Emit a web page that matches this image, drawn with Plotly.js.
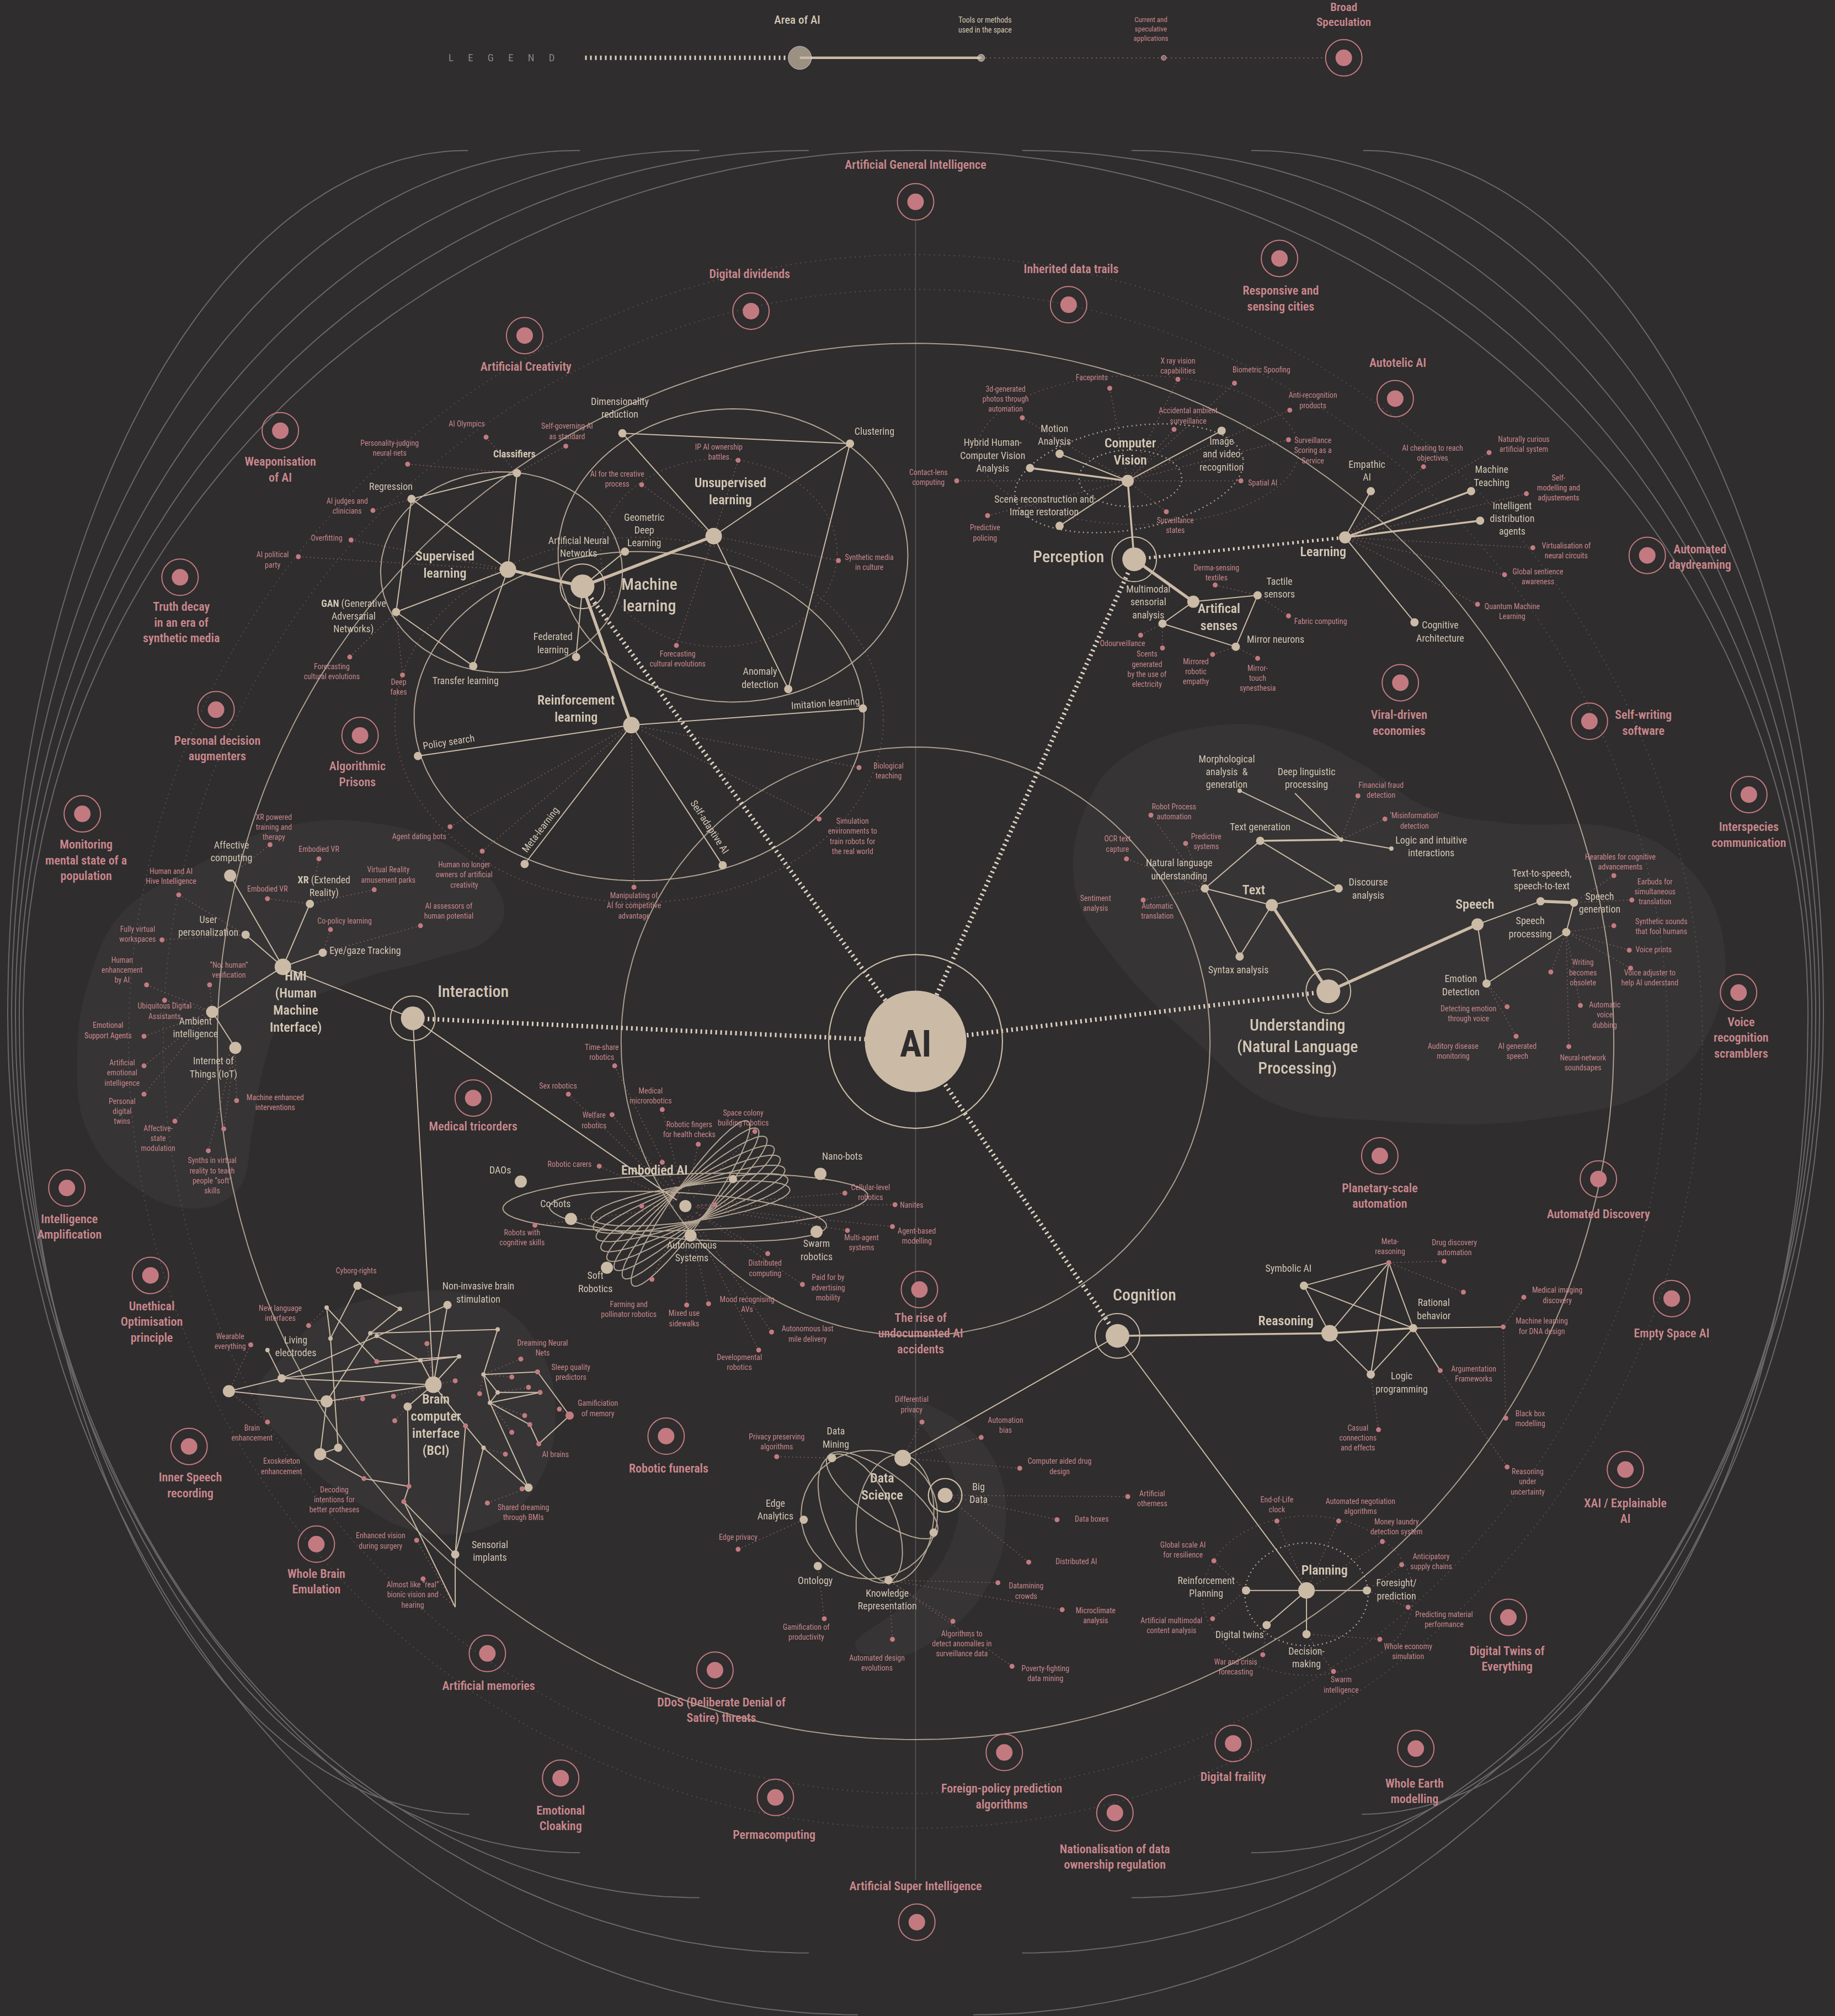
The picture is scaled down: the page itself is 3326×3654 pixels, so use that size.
<!DOCTYPE html>
<html>
<head>
<meta charset="utf-8">
<script src="https://cdn.plot.ly/plotly-3.0.1.min.js"></script>
<style>
html,body{margin:0;padding:0;background:#2f2d2e;overflow:hidden;}
#chart{width:3326px;height:3654px;}
</style>
</head>
<body>
<div id="chart"></div>
<script>
/* ================= DATA ================= */
// network nodes (diagram coordinates)
const nodeId = [
"AI","ML","PER","UND","INT","COG","EMB","DS","BD",
"SUP","UNS","REI","CLS","REG","GAN","TRL","DIM","CLU","GEO","FED","ANO","IMI","POL","MET","SAD",
"CV","AS","LRN","MOT","HYB","IMG","SCN","EMP","MTE","IDA","CGA","TAC","MUL","MIR",
"TXT","SPE","TGN","NLU","DIS","SYN","JUN","MOR","DLP","LOG","TTS","SGN","SPR","EMO",
"HMI","AFF","XR","EYE","USR","AMB","IOT",
"DAO","COB","SOF","AUT","SWA","NAN","EM1",
"BCI","B1","B2","B3","B4","B5","B6","B7","B8","B9","B10","B11","B13","B14","B15","B16","B17","B18","B19","B20","B21","B22","B23","B24","B25",
"P1","P2","P3","P4","P5","P6","P7","P8","P9","P10",
"DMI","EDG","ONT","KNR","DS2",
"REA","PLA","SYM","MTR","RAT","LGP","DNA","ARG","RPL","FOR","DTW","DEC"];
const nodeX = [
712,453,882,1033,321,869,533,702,735,
395,555,491,402,320,308,368,484,661,486,448,613,671,325,408,562,
877,928,1046,824,801,950,824,1066,1144,1151,1100,978,904,961,
989,1149,980,937,1041,964,1043,964,1007,1082,1198,1224,1218,1156,
220,179,241,251,191,165,183,
405,444,472,537,635,638,570,
337,278,348,311,254,257,288,293,208,219,178,254,327,357,317,249,263,387,376,387,381,376,411,354,354,
418,420,443,412,419,362,318,314,283,293,
647,625,636,691,726,
1034,1016,1014,1080,1099,1066,1169,1120,969,1063,985,1016];
const nodeY = [
810,456,435,771,792,1039,938,1134,1163,
443,417,564,368,388,476,518,337,345,429,511,536,551,588,672,673,
374,468,418,353,364,335,409,382,382,405,484,463,485,503,
704,719,654,691,691,744,653,615,617,660,701,702,725,765,
752,681,703,741,727,787,815,
919,948,986,961,958,913,917,
1077,1000,1015,1018,1017,1041,1037,1039,1050,1072,1082,1090,1058,1055,1094,1131,1126,1034,1069,1083,1091,1126,1157,1209,1250,
1067,1083,1101,1108,1123,1109,1156,1168,1150,1059,
1134,1182,1218,1229,1192,
1037,1237,1000,982,1033,1069,1032,1066,1237,1237,1264,1271];
const nodeKind = [
"ai","hub","hub","hub","hub","hub","emb","sub","bd",
"sub","sub","sub","tool","tool","tool","tool","tool","tool","tool","tool","tool","tool","tool","tool","tool",
"mid","mid","mid","tool","tool","tool","tool","tool","tool","tool","tool","tool","tool","tool",
"mid","mid","tool","tool","tool","tool","small","small","end","small","tool","tool","tool","tool",
"sub","mid","tool","tool","tool","mid","mid",
"mid","mid","mid","mid","mid","mid","tool",
"sub","tool","tool","small","small","small","small","small","small","tool","mid","mid","small","small","tool","mid","tool","small","small","small","small","small","tool","tool","end",
"pink","pink","pinkBig","pink","pink","pink","pink","pink","pink","pink",
"tool","tool","tool","tool","tool",
"sub","sub","tool","pink","tool","tool","pink","pink","tool","tool","tool","tool"];

// connections
const aiLinks = ["ML","PER","UND","INT","COG"];
const thickEdges = [["ML","SUP"],["ML","UNS"],["ML","REI"],["PER","AS"],["UND","TXT"],["UND","SPE"],["TTS","SGN"]];
const midEdges = [["LRN","MTE"],["LRN","IDA"],["CV","HYB"],["COG","REA"],["TGN","JUN"],["REA","RAT"],["PER","CV"]];
const thinEdges = [
["SUP","CLS"],["SUP","REG"],["SUP","GAN"],["SUP","TRL"],["REG","CLS"],["REG","GAN"],["GAN","TRL"],["ML","GEO"],["ML","FED"],
["UNS","DIM"],["UNS","CLU"],["UNS","ANO"],["DIM","CLU"],["CLU","ANO"],["REI","POL"],["REI","IMI"],["REI","MET"],["REI","SAD"],
["CV","MOT"],["CV","IMG"],["CV","SCN"],["AS","TAC"],["AS","MUL"],["MUL","MIR"],["TAC","MIR"],["LRN","EMP"],["LRN","CGA"],
["TXT","NLU"],["NLU","TGN"],["TGN","DIS"],["TXT","DIS"],["NLU","SYN"],["SYN","TXT"],["JUN","MOR"],["JUN","DLP"],["JUN","LOG"],
["SPE","TTS"],["SGN","SPR"],["SPR","EMO"],["EMO","SPE"],
["INT","HMI"],["HMI","AFF"],["HMI","XR"],["HMI","EYE"],["HMI","USR"],["HMI","AMB"],["AMB","IOT"],["INT","BCI"],["INT","EMB"],
["COG","PLA"],["COG","DS"],
["REA","SYM"],["REA","MTR"],["REA","LGP"],["SYM","MTR"],["SYM","RAT"],["MTR","RAT"],["MTR","LGP"],["RAT","LGP"],["RAT","DNA"],["RAT","ARG"],
["PLA","RPL"],["PLA","FOR"],["PLA","DTW"],["PLA","DEC"],
["B10","B9"],["B10","B11"],["B9","B8"],["B9","BCI"],["B9","B2"],["B9","B14"],["B11","BCI"],["B11","B6"],["B4","B5"],["B5","B17"],
["B4","P10"],["B5","B1"],["B1","B3"],["B3","B6"],["B7","B13"],["B13","BCI"],["P10","B14"],["B14","BCI"],["BCI","B2"],["BCI","B15"],
["B15","P7"],["P7","P8"],["B16","B17"],["B16","B11"],["B16","P9"],["P9","P7"],["BCI","P6"],["P6","B22"],["P6","B24"],["B24","B25"],
["P8","B24"],["P8","B25"],["B24","B22"],["B22","B23"],["B18","B19"],["B18","B6"],["B19","P1"],["B19","B20"],["B20","P2"],["B21","P2"],
["B21","P4"],["P4","P5"],["P1","P3"],["P5","P3"],["B21","B20"],["B19","B21"],["B21","B23"]];

// rings / orbits drawn around clusters: centre x, centre y, half-width, half-height, tilt, style
const ringCX = [390,570,497,676,686,696,669,735,533,535,537,537,537,537,537,537,537,537,879,878,1016,885,559,497,1017];
const ringCY = [445,432,557,1178,1163,1181,1181,1163,935,946,936,936,936,936,936,936,936,936,372,372,1240,350,430,560,1241];
const ringA  = [94,136,175,53,52,50,54,13,142,108,78,78,78,78,78,78,78,78,40,90,48,125,92,190,82];
const ringB  = [78,114,128,50,18,30,26,13,22,18,14,14,14,14,14,14,14,14,22,40,40,58,73,142,62];
const ringTilt=[0,0,0,0,-36,-96,-65,0,2,-4,8,14,20,27,34,41,48,55,0,10,0,0,0,0,0];
const ringStyle=["s","s","s","s","s","s","s","s","s","s","s","s","s","s","s","s","s","s","dw","dw","dw","dp","dp","dp","dp"];

// current & speculative applications (pink dots)
const appText = [
"AI Olympics","Personality-judging<br>neural nets","Self-governing AI<br>as standard","AI judges and<br>clinicians","Overfitting","AI political<br>party","Forecasting<br>cultural evolutions","Deep<br>fakes","IP AI ownership<br>battles","AI for the creative<br>process","Synthetic media<br>in culture","Forecasting<br>cultural evolutions","Biological<br>teaching","Simulation<br>environments to<br>train robots for<br>the real world","Agent dating bots","Human no longer<br>owners of artificial<br>creativity","Manipulating of<br>AI for competitive<br>advantage",
"Faceprints","X ray vision<br>capabilities","Biometric Spoofing","3d-generated<br>photos through<br>automation","Anti-recognition<br>products","Accidental ambient<br>surveillance","Surveillance<br>Scoring as a<br>Service","Contact-lens<br>computing","Spatial AI","Predictive<br>policing","Surveillance<br>states","AI cheating to reach<br>objectives","Naturally curious<br>artificial system","Self-<br>modelling and<br>adjustements","Virtualisation of<br>neural circuits","Global sentience<br>awareness","Quantum Machine<br>Learning","Derma-sensing<br>textiles","Fabric computing","Odourveillance","Scents<br>generated<br>by the use of<br>electricity","Mirrored<br>robotic<br>empathy","Mirror-<br>touch<br>synesthesia",
"Robot Process<br>automation","OCR text<br>capture","Predictive<br>systems","Automatic<br>translation","Financial fraud<br>detection","‘Misinformation’<br>detection","Hearables for cognitive<br>advancements","Earbuds for<br>simultaneous<br>translation","Synthetic sounds<br>that fool humans","Voice prints","Voice adjuster to<br>help AI understand","Writing<br>becomes<br>obsolete","Detecting emotion<br>through voice","Automatic<br>voice<br>dubbing","AI generated<br>speech","Neural-network<br>soundsapes",
"XR powered<br>training and<br>therapy","Embodied VR","Human and AI<br>Hive Intelligence","Embodied VR","Virtual Reality<br>amusement parks","Co-policy learning","AI assessors of<br>human potential","Fully virtual<br>workspaces","Human<br>enhancement<br>by AI","“Not human”<br>verification","Ubiquitous Digital<br>Assistants","Emotional<br>Support Agents","Artificial<br>emotional<br>intelligence","Personal<br>digital<br>twins","Affective-<br>state<br>modulation","Machine enhanced<br>interventions","Synths in virtual<br>reality to teach<br>people “soft”<br>skills","",
"Time-share<br>robotics","Sex robotics","Medical<br>microrobotics","Welfare<br>robotics","Space colony<br>building robotics","Robotic fingers<br>for health checks","Robotic carers","","","","Cellular-level<br>robotics","Nanites","Robots with<br>cognitive skills","Agent-based<br>modelling","Multi-agent<br>systems","Distributed<br>computing","Paid for by<br>advertising<br>mobility","Farming and<br>pollinator robotics","Mixed use<br>sidewalks","Mood recognising<br>AVs","Autonomous last<br>mile delivery","Developmental<br>robotics",
"New language<br>interfaces","Wearable<br>everything","Brain<br>enhancement","Enhanced vision<br>during surgery","Almost like “real”<br>bionic vision and<br>hearing","Dreaming Neural<br>Nets","Shared dreaming<br>through BMIs","","","","","","","","","","","","","",
"Differential<br>privacy","Automation<br>bias","Privacy preserving<br>algorithms","Computer aided drug<br>design","Artificial<br>otherness","Data boxes","Edge privacy","Distributed AI","Datamining<br>crowds","Microclimate<br>analysis","Gamification of<br>productivity","","Algorithms to<br>detect anomalies in<br>surveillance data","Poverty-fighting<br>data mining","Global scale AI<br>for resilience","Artificial multimodal<br>content analysis",
"Drug discovery<br>automation","","Medical imaging<br>discovery","Black box<br>modelling","Casual<br>connections<br>and effects","Reasoning<br>under<br>uncertainty","End-of-Life<br>clock","Automated negotiation<br>algorithms","Money laundry<br>detection system","Anticipatory<br>supply chains","Predicting material<br>performance","Whole economy<br>simulation","Swarm<br>intelligence","War and crisis<br>forecasting"];
const appX = [
378,317,440,290,273,232,272,313,574,499,652,526,668,637,350,375,493,
863,916,960,795,1003,913,1002,744,965,768,907,1107,1158,1187,1192,1170,1149,945,1002,887,904,943,978,
895,876,922,889,1056,1077,1255,1269,1255,1267,1268,1206,1172,1229,1179,1220,
210,248,139,208,291,257,327,126,114,163,128,112,112,112,136,184,162,174,
478,442,515,476,587,543,466,515,499,556,657,696,416,694,659,597,624,507,534,551,600,590,
240,195,208,324,329,405,379,332,354,373,398,411,408,398,393,406,435,282,306,307,
717,763,604,793,877,822,574,800,776,826,641,694,741,787,944,943,
1123,1138,1185,1171,1072,1172,993,1041,1075,1090,1095,1073,1037,982];
const appY = [
340,361,347,397,420,433,511,525,358,377,436,502,597,637,643,662,690,
302,295,298,325,319,334,342,374,374,401,398,363,352,384,426,447,470,455,479,494,504,509,512,
634,668,656,700,619,637,681,700,720,739,753,756,783,782,806,814,
657,668,696,699,692,723,720,731,766,766,778,806,829,851,872,856,895,878,
829,851,863,867,880,890,907,904,938,937,928,937,953,954,957,975,999,995,1015,1014,1036,1050,
1031,1046,1106,1198,1228,1057,1169,1045,1074,1084,1071,1079,1101,1114,1131,1158,1096,1088,1086,1105,
1106,1118,1133,1142,1164,1182,1205,1215,1231,1252,1259,1275,1261,1296,1214,1259,
981,1005,1009,1103,1112,1141,1183,1183,1199,1217,1250,1275,1300,1287];
const appLX = [
363,303,441,270,254,212,258,310,559,480,676,527,691,663,326,361,493,
849,916,981,782,1021,924,1021,722,982,766,914,1114,1185,1212,1218,1196,1176,946,1027,873,892,930,978,
913,869,938,900,1074,1100,1260,1287,1292,1286,1283,1231,1142,1248,1180,1231,
213,248,133,208,302,268,349,107,95,178,128,84,95,95,123,214,165,0,
468,434,506,462,578,536,443,0,0,0,677,709,406,713,670,595,644,489,532,581,628,575,
218,179,196,296,321,422,407,0,0,0,0,0,0,0,0,0,0,0,0,0,
709,782,604,824,896,849,574,837,798,852,627,0,748,813,920,911,
1131,0,1211,1190,1056,1188,993,1058,1086,1113,1123,1095,1043,961];
const appLY = [
330,349,336,394,419,436,523,535,352,373,438,513,600,651,651,681,705,
294,285,288,311,312,324,351,372,376,415,409,353,346,380,429,449,476,446,484,501,521,523,528,
632,657,655,709,615,639,671,694,721,739,761,757,789,790,818,827,
644,661,682,692,681,717,709,727,755,755,787,802,835,865,886,858,915,0,
819,845,853,872,870,879,906,0,0,0,928,938,963,962,967,987,1002,1019,1026,1015,1038,1060,
1022,1044,1115,1199,1241,1049,1177,0,0,0,0,0,0,0,0,0,0,0,0,0,
1093,1109,1122,1141,1166,1182,1196,1215,1238,1257,1270,0,1279,1302,1206,1265,
971,0,1008,1104,1119,1153,1171,1172,1188,1215,1260,1285,1311,1297];
const appTo = [
"CLS","CLS","CLS","REG","SUP","SUP","GAN","GAN","UNS","UNS","UNS","UNS","REI","REI","REI","REI","REI",
"CV","CV","CV","CV","CV","CV","CV","CV","CV","CV","CV","LRN","LRN","LRN","LRN","LRN","LRN","TAC","TAC","MUL","MUL","MIR","MIR",
"NLU","NLU","NLU","NLU","JUN","JUN","SGN","SGN","SPR","SPR","SPR","SPR","EMO","SPR","EMO","SPR",
"AFF","XR","USR","XR","XR","EYE","EYE","USR","AMB","AMB","AMB","AMB","AMB","AMB","IOT","IOT","IOT","IOT",
"EMB","EMB","EMB","EMB","EMB","EMB","EMB","EMB","EMB","EMB","EMB","EMB","EMB","EMB","EMB","EMB","EMB","EMB","EMB","EMB","EMB","EMB",
"B4","B10","B10","B25","B25","B19","B23","BCI","BCI","B19","B19","B20","B21","B21","B22","B23","P3","B11","BCI","B15",
"DS","DS","DMI","DS","BD","BD","EDG","BD","KNR","KNR","ONT","KNR","KNR","KNR","RPL","RPL",
"MTR","MTR","DNA","DNA","LGP","ARG","PLA","PLA","PLA","FOR","FOR","DEC","DEC","DTW"];

// pink labels that sit on network nodes (no separate dot)
const pinkLabelText = ["Sentiment<br>analysis","Auditory disease<br>monitoring","Exoskeleton<br>enhancement","Decoding<br>intentions for<br>better protheses","Sleep quality<br>predictors","Gamificiation<br>of memory","AI brains","Automated design<br>evolutions","Cyborg-rights","Meta-<br>reasoning","Machine learning<br>for DNA design","Argumentation<br>Frameworks"];
const pinkLabelX = [852,1130,219,260,444,465,432,682,277,1081,1199,1146];
const pinkLabelY = [703,818,1141,1167,1068,1096,1132,1294,989,970,1032,1069];

// broad speculation
const specText = ["Artificial General Intelligence","Digital dividends","Inherited data trails","Responsive and<br>sensing cities","Artificial Creativity","Autotelic AI","Weaponisation<br>of AI","Automated<br>daydreaming","Truth decay<br>in an era of<br>synthetic media","Viral-driven<br>economies","Personal decision<br>augmenters","Algorithmic<br>Prisons","Self-writing<br>software","Interspecies<br>communication","Monitoring<br>mental state of a<br>population","Voice<br>recognition<br>scramblers","Medical tricorders","Planetary-scale<br>automation","Automated Discovery","Intelligence<br>Amplification","The rise of<br>undocumented AI<br>accidents","Unethical<br>Optimisation<br>principle","Empty Space AI","Inner Speech<br>recording","Robotic funerals","XAI / Explainable<br>AI","Whole Brain<br>Emulation","Digital Twins of<br>Everything","Artificial memories","DDoS (Deliberate Denial of<br>Satire) threats","Digital fraility","Whole Earth<br>modelling","Foreign-policy prediction<br>algorithms","Emotional<br>Cloaking","Permacomputing","Nationalisation of data<br>ownership regulation","Artificial Super Intelligence"];
const specX = [712,584,831,995,408,1085,218,1281,140,1089,168,280,1236,1360,64,1352,368,1073,1243,52,715,117,1300,147,518,1264,246,1173,379,556,959,1101,781,436,603,867,713];
const specY = [157,242,237,201,261,310,335,432,449,531,552,572,561,618,633,772,854,899,917,924,1003,992,1010,1125,1117,1143,1201,1258,1286,1299,1356,1360,1363,1383,1398,1410,1495];
const specLX = [712,583,833,996,409,1087,218,1322,141,1088,169,278,1278,1360,67,1354,368,1073,1243,54,716,118,1300,148,520,1264,246,1172,380,561,959,1100,779,436,602,867,712];
const specLY = [129,214,210,233,286,283,366,434,485,563,583,603,563,650,670,808,877,931,945,955,1038,1029,1038,1156,1143,1176,1231,1291,1312,1331,1383,1394,1398,1415,1428,1445,1468];

// labels of areas and tools
const hubLabelText = ["Machine<br>learning","Perception","Understanding<br>(Natural Language<br>Processing)","Interaction","Cognition"];
const hubLabelX = [505,831,1009,368,890];
const hubLabelY = [464,434,815,772,1008];
const subLabelText = ["Learning","Embodied AI","Data<br>Science","Supervised<br>learning","Unsupervised<br>learning","Reinforcement<br>learning","Computer<br>Vision","Artifical<br>senses","Text","Speech","<b>HMI</b><br>(Human<br>Machine<br>Interface)","Brain<br>computer<br>interface<br>(BCI)","Reasoning","Planning"];
const subLabelX = [1029,509,686,346,568,448,879,948,975,1147,230,339,1000,1030];
const subLabelY = [430,911,1157,440,383,552,352,481,693,704,780,1109,1028,1222];
const toolLabelText = [
"<b>Classifiers</b>","Regression","<b>GAN</b> (Generative<br>Adversarial<br>Networks)","Transfer learning","Dimensionality<br>reduction","Clustering","Geometric<br>Deep<br>Learning","Artificial Neural<br>Networks","Federated<br>learning","Anomaly<br>detection",
"Motion<br>Analysis","Hybrid Human-<br>Computer Vision<br>Analysis","Image<br>and video<br>recognition","Scene reconstruction and<br>Image restoration","Empathic<br>AI","Machine<br>Teaching","Intelligent<br>distribution<br>agents","Cognitive<br>Architecture","Tactile<br>sensors","Multimodal<br>sensorial<br>analysis","Mirror neurons",
"Text generation","Natural language<br>understanding","Discourse<br>analysis","Syntax analysis","Morphological<br>analysis  &<br>generation","Deep linguistic<br>processing","Logic and intuitive<br>interactions","Text-to-speech,<br>speech-to-text","Speech<br>generation","Speech<br>processing","Emotion<br>Detection",
"Affective<br>computing","<b>XR</b> (Extended<br>Reality)","Eye/gaze Tracking","User<br>personalization","Ambient<br>intelligence","Internet of<br>Things (IoT)",
"DAOs","Co-bots","Soft<br>Robotics","Autonomous<br>Systems","Swarm<br>robotics","Nano-bots",
"Living<br>electrodes","Non-invasive brain<br>stimulation","Sensorial<br>implants",
"Data<br>Mining","Edge<br>Analytics","Ontology","Knowledge<br>Representation","Big<br>Data",
"Symbolic AI","Rational<br>behavior","Logic<br>programming","Reinforcement<br>Planning","Foresight/<br>prediction","Digital twins","Decision-<br>making"];
const toolLabelX = [400,304,275,362,482,680,501,450,430,591,
820,772,950,812,1063,1160,1176,1120,995,893,992,
980,917,1064,963,954,1016,1113,1199,1244,1190,1136,
180,252,284,162,152,166,
389,432,463,538,635,655,
230,372,381,
650,603,634,690,761,
1002,1115,1090,938,1086,964,1016];
const toolLabelY = [354,379,480,530,318,336,413,426,501,528,
339,355,354,394,367,371,404,492,458,469,498,
644,677,692,755,601,606,659,685,703,722,767,
663,690,740,721,800,831,
911,937,998,974,973,900,
1048,1006,1207,
1119,1175,1230,1245,1162,
987,1019,1076,1235,1237,1272,1290];
const rotText = ["Policy search","Imitation learning","Meta-learning","Self-adaptive AI"];
const rotX = [349,642,420,552];
const rotY = [577,547,645,643];
const rotAngle = [-9,-4,-53,57];

// outer horizon curves
const outerTopX = [712,629,544,451,364];
const outerSideX = [18,15,12,9,6];
const outerBotX = [365,451,544,629,667];
const outerBotY = [1411,1441,1476,1519,1567];
// circles around the AI core
const coreCircleR = [543,229];
const faintCircleR = [585,612];

// lighter background regions
const blobNLPx = [848,880,940,1000,1060,1110,1170,1260,1310,1340,1330,1290,1200,1080,990,930,870,836];
const blobNLPy = [620,585,565,568,595,628,640,645,672,730,800,845,870,872,858,810,750,690];
const blobHMIx = [70,95,150,213,290,360,392,380,340,270,222,205,196,185,150,100,68,60];
const blobHMIy = [760,710,675,645,640,665,705,730,745,765,790,830,880,925,940,920,880,820];
const blobBCIx = [200,225,250,300,356,395,420,432,420,385,330,280,230];
const blobBCIy = [1085,1050,1025,1008,1005,1020,1050,1096,1150,1185,1192,1170,1130];
const blobDSx = [700,745,775,782,770,735,690,665,700,735,745,725];
const blobDSy = [1088,1105,1140,1185,1230,1270,1290,1280,1250,1210,1160,1120];

/* ================= STYLE ================= */
const FONT = "'Liberation Sans Narrow','Roboto Condensed','Arial Narrow',Roboto,sans-serif";
const BG = '#2f2d2e', BEIGE = '#cbbba6', BEIGE_T = '#d3c6b4', PINK = '#c27a80', PINK_T = '#c9878c', GRAY = '#6b6869';
const KIND_SIZE = {ai:184, hub:43, sub:30, emb:30, bd:27, mid:22, tool:15, small:8, pink:9, pinkBig:15, end:0};
const AI_DOT = '3px,6px';

/* ================= DRAWING ================= */
const idx = {}; nodeId.forEach((id,i)=>{idx[id]=i;});
const P = id => [nodeX[idx[id]], nodeY[idx[id]]];
const traces = [];
const add = t => { t.hoverinfo='skip'; t.showlegend=false; traces.push(t); };

function segs(pairs){
  const x=[],y=[];
  pairs.forEach(([a,b])=>{const p=Array.isArray(a)?a:P(a), q=Array.isArray(b)?b:P(b); x.push(p[0],q[0],null); y.push(p[1],q[1],null);});
  return {x,y};
}
function ell(cx,cy,a,b,tilt,n){
  n=n||180; const x=[],y=[]; const t=tilt*Math.PI/180;
  for(let i=0;i<=n;i++){const u=2*Math.PI*i/n; const ex=a*Math.cos(u), ey=b*Math.sin(u);
    x.push(cx+ex*Math.cos(t)-ey*Math.sin(t)); y.push(cy-(ex*Math.sin(t)+ey*Math.cos(t)));}
  return {x,y};
}
function joinShapes(list){const x=[],y=[];list.forEach(s=>{x.push(...s.x,null);y.push(...s.y,null);});return {x,y};}

// blobs
[[blobNLPx,blobNLPy],[blobHMIx,blobHMIy],[blobBCIx,blobBCIy],[blobDSx,blobDSy]].forEach(([bx,by])=>{
  add({type:'scatter',mode:'lines',x:bx.concat([bx[0]]),y:by.concat([by[0]]),fill:'toself',fillcolor:'rgba(255,255,255,0.035)',line:{width:0,color:'rgba(0,0,0,0)',shape:'spline',smoothing:1.2}});
});

// outer horizon curves
(function(){
  const shapes=[];
  const cx=712, yt=117, yc=790;
  for(let k=0;k<outerTopX.length;k++){
    const xt=outerTopX[k], xs=outerSideX[k], xb=outerBotX[k], yb=outerBotY[k];
    const lx=[],ly=[];
    for(let i=0;i<=90;i++){const t=Math.PI/2*i/90; lx.push(xt-(xt-xs)*Math.sin(t)); ly.push(yc-(yc-yt)*Math.cos(t));}
    for(let i=89;i>=0;i--){const t=Math.PI/2*i/90; lx.push(xb-(xb-xs)*Math.sin(t)); ly.push(yc+(yb-yc)*Math.cos(t));}
    shapes.push({x:lx,y:ly});
    shapes.push({x:lx.map(v=>2*cx-v),y:ly.slice()});
  }
  const j=joinShapes(shapes);
  add({type:'scatter',mode:'lines',x:j.x,y:j.y,line:{width:2,color:GRAY}});
})();

// faint dotted circles
const AIx=P("AI")[0], AIy=P("AI")[1];
add(Object.assign({type:'scatter',mode:'lines',line:{width:2,color:'rgba(150,145,146,0.35)',dash:'2px,7px'}},joinShapes(faintCircleR.map(r=>ell(AIx,AIy,r,r,0,360)))));
// vertical axis
add({type:'scatter',mode:'lines',x:[AIx,AIx],y:[172,1462],line:{width:1.5,color:'#5c595a'}});
// core circles
add(Object.assign({type:'scatter',mode:'lines',line:{width:2,color:BEIGE},opacity:0.8},joinShapes(coreCircleR.map(r=>ell(AIx,AIy,r,r,0,360)))));

// pink dotted application links
(function(){
  const pairs=[];
  for(let i=0;i<appX.length;i++){ if(appTo[i]) pairs.push([[appX[i],appY[i]],appTo[i]]); }
  add(Object.assign({type:'scatter',mode:'lines',line:{width:1.6,color:PINK,dash:'2px,5px'},opacity:0.6},segs(pairs)));
})();

// rings
(function(){
  const solid=[],dw=[],dp=[];
  for(let i=0;i<ringCX.length;i++){
    const e=ell(ringCX[i],ringCY[i],ringA[i],ringB[i],ringTilt[i],200);
    if(ringStyle[i]==='s') solid.push(e); else if(ringStyle[i]==='dw') dw.push(e); else dp.push(e);
  }
  add(Object.assign({type:'scatter',mode:'lines',line:{width:1.6,color:PINK,dash:'2px,6px'},opacity:0.55},joinShapes(dp)));
  add(Object.assign({type:'scatter',mode:'lines',line:{width:2.5,color:BEIGE_T,dash:'2px,6px'},opacity:0.8},joinShapes(dw)));
  add(Object.assign({type:'scatter',mode:'lines',line:{width:2,color:BEIGE},opacity:0.85},joinShapes(solid)));
})();

// AI connectors
add(Object.assign({type:'scatter',mode:'lines',line:{width:8,color:'#dcd0bf',dash:AI_DOT}},segs(aiLinks.map(h=>[h,"AI"]))));
add(Object.assign({type:'scatter',mode:'lines',line:{width:6,color:'#dcd0bf',dash:AI_DOT}},segs([["PER","LRN"]])));

// edges
add(Object.assign({type:'scatter',mode:'lines',line:{width:2,color:BEIGE}},segs(thinEdges)));
add(Object.assign({type:'scatter',mode:'lines',line:{width:3.5,color:BEIGE}},segs(midEdges)));
add(Object.assign({type:'scatter',mode:'lines',line:{width:5.5,color:BEIGE}},segs(thickEdges)));

// rings around area hubs
(function(){
  const hx=[],hy=[];
  nodeKind.forEach((k,i)=>{ if(k==='hub'){hx.push(nodeX[i]);hy.push(nodeY[i]);} });
  add({type:'scatter',mode:'markers',x:hx,y:hy,marker:{symbol:'circle-open',size:81,color:BEIGE,line:{width:2,color:BEIGE}}});
  add({type:'scatter',mode:'markers',x:[AIx],y:[AIy],marker:{symbol:'circle-open',size:315,color:BEIGE,line:{width:2.2,color:BEIGE}}});
  const b=P("BD");
  add({type:'scatter',mode:'markers',x:[b[0]],y:[b[1]],marker:{symbol:'circle-open',size:61,color:BEIGE,line:{width:2,color:BEIGE}}});
})();

// nodes
(function(){
  const kinds=Object.keys(KIND_SIZE);
  kinds.forEach(k=>{
    if(k==='end') return;
    const xs=[],ys=[];
    nodeKind.forEach((kk,i)=>{ if(kk===k){xs.push(nodeX[i]);ys.push(nodeY[i]);} });
    if(!xs.length) return;
    const pink=(k==='pink'||k==='pinkBig');
    const m={size:KIND_SIZE[k],color:pink?PINK:BEIGE,line:{width:0}};
    if(k==='emb') m.line={width:8,color:BG};
    add({type:'scatter',mode:'markers',x:xs,y:ys,marker:m});
  });
})();

// application dots
add({type:'scatter',mode:'markers',x:appX,y:appY,marker:{size:9,color:PINK}});

// speculation rings & dots
add({type:'scatter',mode:'markers',x:specX,y:specY,marker:{symbol:'circle-open',size:66,color:PINK,line:{width:2,color:PINK}}});
add({type:'scatter',mode:'markers',x:specX,y:specY,marker:{size:30,color:PINK}});

// legend
const LEG_Y = 45;
add({type:'scatter',mode:'lines',x:[455,612],y:[LEG_Y,LEG_Y],line:{width:8,color:'#dcd0bf',dash:AI_DOT}});
add({type:'scatter',mode:'lines',x:[622,763],y:[LEG_Y,LEG_Y],line:{width:4.5,color:BEIGE}});
add({type:'scatter',mode:'lines',x:[763,1031],y:[LEG_Y,LEG_Y],line:{width:1.6,color:PINK,dash:'2px,6px'},opacity:0.7});
add({type:'scatter',mode:'markers',x:[622,763,905],y:[LEG_Y,LEG_Y,LEG_Y],marker:{size:[42,13,9],color:[BEIGE,BEIGE,PINK]}});
add({type:'scatter',mode:'markers',x:[1045],y:[LEG_Y],marker:{symbol:'circle-open',size:66,color:PINK,line:{width:2,color:PINK}}});
add({type:'scatter',mode:'markers',x:[1045],y:[LEG_Y],marker:{size:30,color:PINK}});

// text
function textTrace(x,y,text,size,color,weight){
  return {type:'scatter',mode:'text',x,y,text,textposition:'middle center',textfont:{family:FONT,size,color,weight:weight||400},cliponaxis:false};
}
const aLX=[],aLY=[],aLT=[];
for(let i=0;i<appText.length;i++){ if(appText[i]){aLX.push(appLX[i]);aLY.push(appLY[i]);aLT.push(appText[i]);} }
add(textTrace(aLX,aLY,aLT,14,PINK_T));
add(textTrace(pinkLabelX,pinkLabelY,pinkLabelText,14,PINK_T));
add(textTrace(toolLabelX,toolLabelY,toolLabelText,18,BEIGE_T));
add(textTrace(subLabelX,subLabelY,subLabelText,24,BEIGE_T,600));
add(textTrace(hubLabelX,hubLabelY,hubLabelText,30,BEIGE_T,500));
add(textTrace(specLX,specLY,specText,22,PINK_T,600));
add(textTrace([620,766,895,1045],[16,20,23,12],["Area of AI","Tools or methods<br>used in the space","Current and<br>speculative<br>applications","Broad<br>Speculation"],[21,14,13,21],[BEIGE_T,BEIGE_T,PINK_T,PINK_T],[500,400,400,600]));

const annotations = [];
annotations.push({x:AIx,y:AIy+2,xref:'x',yref:'y',text:'<b>AI</b>',showarrow:false,font:{family:FONT,size:66,color:BG}});
annotations.push({x:390,y:LEG_Y,xref:'x',yref:'y',text:'L      E      G      E      N      D',showarrow:false,font:{family:FONT,size:19,color:'#8c8788'}});
for(let i=0;i<rotText.length;i++){
  annotations.push({x:rotX[i],y:rotY[i],xref:'x',yref:'y',text:rotText[i],textangle:rotAngle[i],showarrow:false,font:{family:FONT,size:18,color:BEIGE_T}});
}

const layout = {
  width:3326,height:3654,margin:{l:0,r:0,t:0,b:0,pad:0},
  paper_bgcolor:BG,plot_bgcolor:BG,showlegend:false,hovermode:false,
  xaxis:{range:[0,1427],visible:false,showgrid:false,zeroline:false},
  yaxis:{range:[1568,0],visible:false,showgrid:false,zeroline:false},
  annotations:annotations
};
Plotly.newPlot('chart',traces,layout,{staticPlot:true,displayModeBar:false});
</script>
</body>
</html>
